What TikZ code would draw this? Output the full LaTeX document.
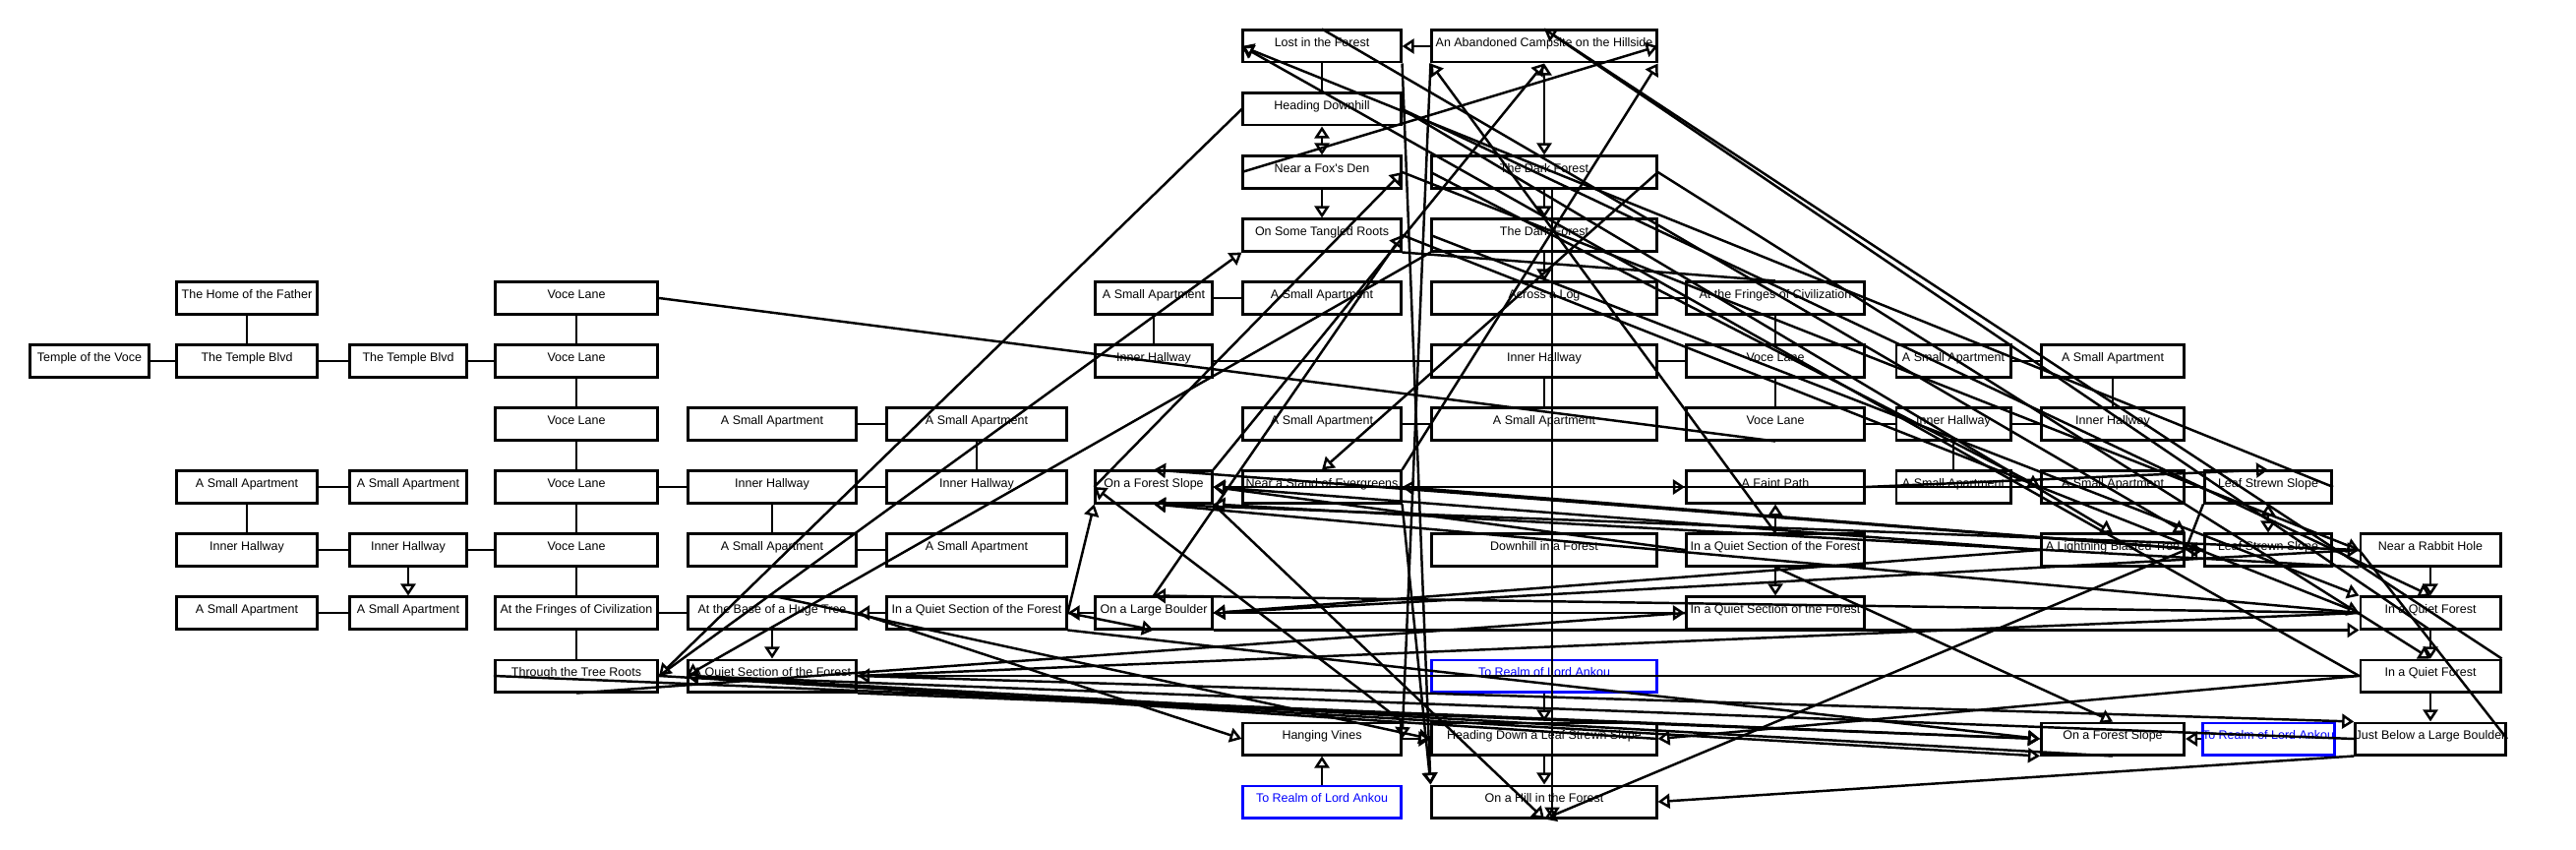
\documentclass[tikz,border=0pt]{standalone}
\usepackage{fontspec}
\newfontfamily\roomfont{Liberation Sans}
\usetikzlibrary{arrows.meta, positioning}

\tikzset{
  room/.style={draw, line width=0.85pt, minimum height=0.32cm, inner sep=0pt,
    font={\roomfont\fontsize{3.55}{4}\selectfont}, text height=2.55pt, text depth=2.2pt},
  realm/.style={room, draw=blue, text=blue},
  wA/.style={minimum width=1.21cm}, wB/.style={minimum width=1.42cm},
  wC/.style={minimum width=1.19cm}, wD/.style={minimum width=1.65cm},
  wE/.style={minimum width=1.71cm}, wF/.style={minimum width=1.82cm},
  wG/.style={minimum width=1.18cm}, wH/.style={minimum width=1.60cm},
  wI/.style={minimum width=2.28cm}, wJ/.style={minimum width=1.81cm},
  wK/.style={minimum width=1.16cm}, wL/.style={minimum width=1.45cm},
  wM/.style={minimum width=1.29cm}, wN/.style={minimum width=1.42cm},
  link/.style={line width=0.7pt},
  go/.style={link, -{Triangle[open, length=1.2mm, width=1.5mm]}},
  goboth/.style={link, {Triangle[open, length=1.2mm, width=1.5mm]}-{Triangle[open, length=1.2mm, width=1.5mm]}}
}

\begin{document}
\begin{tikzpicture}[x=0.01cm, y=-0.01cm]
    \useasboundingbox (0,0) rectangle (2619,864);

    % the town: temple and Voce Lane
    \node[room, wA] (temple) at (91,367) {Temple of the Voce};
    \node[room, wB] (home) at (251,303) {The Home of the Father};
    \node[room, wB] (blvdA) at (251,367) {The Temple Blvd};
    \node[room, wC] (blvdB) at (415,367) {The Temple Blvd};
    \node[room, wD] (voceA) at (586,303) {Voce Lane};
    \node[room, wD] (voceB) at (586,367) {Voce Lane};
    \node[room, wD] (voceC) at (586,431) {Voce Lane};
    \node[room, wD] (voceD) at (586,495) {Voce Lane};
    \node[room, wD] (voceE) at (586,559) {Voce Lane};
    \node[room, wD] (fringeA) at (586,623) {At the Fringes of Civilization};
    \node[room, wD] (treeroots) at (586,687) {Through the Tree Roots};

    % apartments west of the lane
    \node[room, wB] (aptB7) at (251,495) {A Small Apartment};
    \node[room, wC] (aptC7) at (415,495) {A Small Apartment};
    \node[room, wB] (hallB8) at (251,559) {Inner Hallway};
    \node[room, wC] (hallC8) at (415,559) {Inner Hallway};
    \node[room, wB] (aptB9) at (251,623) {A Small Apartment};
    \node[room, wC] (aptC9) at (415,623) {A Small Apartment};

    % apartments east of the lane
    \node[room, wE] (aptE6) at (785,431) {A Small Apartment};
    \node[room, wF] (aptF6) at (993,431) {A Small Apartment};
    \node[room, wE] (hallE7) at (785,495) {Inner Hallway};
    \node[room, wF] (hallF7) at (993,495) {Inner Hallway};
    \node[room, wE] (aptE8) at (785,559) {A Small Apartment};
    \node[room, wF] (aptF8) at (993,559) {A Small Apartment};
    \node[room, wE] (hugetree) at (785,623) {At the Base of a Huge Tree};
    \node[room, wF] (quietF9) at (993,623) {In a Quiet Section of the Forest};
    \node[room, wE] (quietE10) at (785,687) {A Quiet Section of the Forest};

    % column G
    \node[room, wG] (aptG4) at (1173,303) {A Small Apartment};
    \node[room, wG] (hallG5) at (1173,367) {Inner Hallway};
    \node[room, wG] (slopeG7) at (1173,495) {On a Forest Slope};
    \node[room, wG] (boulder) at (1173,623) {On a Large Boulder};

    % column H
    \node[room, wH] (lost) at (1344,47) {Lost in the Forest};
    \node[room, wH] (downhill) at (1344,111) {Heading Downhill};
    \node[room, wH] (foxden) at (1344,175) {Near a Fox's Den};
    \node[room, wH] (roots) at (1344,239) {On Some Tangled Roots};
    \node[room, wH] (aptH4) at (1344,303) {A Small Apartment};
    \node[room, wH] (aptH6) at (1344,431) {A Small Apartment};
    \node[room, wH] (evergreens) at (1344,495) {Near a Stand of Evergreens};
    \node[room, wH] (vines) at (1344,751) {Hanging Vines};
    \node[realm, wH] (realmH) at (1344,815) {To Realm of Lord Ankou};

    % column I
    \node[room, wI] (campsite) at (1570,47) {An Abandoned Campsite on the Hillside};
    \node[room, wI] (darkA) at (1570,175) {The Dark Forest};
    \node[room, wI] (darkB) at (1570,239) {The Dark Forest};
    \node[room, wI] (log) at (1570,303) {Across a Log};
    \node[room, wI] (hallI5) at (1570,367) {Inner Hallway};
    \node[room, wI] (aptI6) at (1570,431) {A Small Apartment};
    \node[room, wI] (downforest) at (1570,559) {Downhill in a Forest};
    \node[realm, wI] (realmI) at (1570,687) {To Realm of Lord Ankou};
    \node[room, wI] (leafdown) at (1570,751) {Heading Down a Leaf Strewn Slope};
    \node[room, wI] (hill) at (1570,815) {On a Hill in the Forest};

    % column J
    \node[room, wJ] (fringeB) at (1805,303) {At the Fringes of Civilization};
    \node[room, wJ] (voceF) at (1805,367) {Voce Lane};
    \node[room, wJ] (voceG) at (1805,431) {Voce Lane};
    \node[room, wJ] (faintpath) at (1805,495) {A Faint Path};
    \node[room, wJ] (quietJ8) at (1805,559) {In a Quiet Section of the Forest};
    \node[room, wJ] (quietJ9) at (1805,623) {In a Quiet Section of the Forest};

    % columns K and L
    \node[room, wK] (aptK5) at (1986,367) {A Small Apartment};
    \node[room, wK] (hallK6) at (1986,431) {Inner Hallway};
    \node[room, wK] (aptK7) at (1986,495) {A Small Apartment};
    \node[room, wL] (aptL5) at (2148,367) {A Small Apartment};
    \node[room, wL] (hallL6) at (2148,431) {Inner Hallway};
    \node[room, wL] (aptL7) at (2148,495) {A Small Apartment};
    \node[room, wL] (lightning) at (2148,559) {A Lightning Blasted Tree};
    \node[room, wL] (slopeL11) at (2148,751) {On a Forest Slope};

    % columns M and N
    \node[room, wM] (leafM7) at (2306,495) {Leaf Strewn Slope};
    \node[room, wM] (leafM8) at (2306,559) {Leaf Strewn Slope};
    \node[realm, wM] (realmM) at (2306,751) {To Realm of Lord Ankou};
    \node[room, wN] (rabbit) at (2471,559) {Near a Rabbit Hole};
    \node[room, wN] (quietN9) at (2471,623) {In a Quiet Forest};
    \node[room, wN] (quietN10) at (2471,687) {In a Quiet Forest};
    \node[room, wN] (boulderN) at (2471,751) {Just Below a Large Boulder};

    % town links
    \draw[link] (home) -- (blvdA);
    \draw[link] (temple) -- (blvdA);
    \draw[link] (blvdA) -- (blvdB);
    \draw[link] (blvdB) -- (voceB);
    \draw[link] (voceA) -- (voceB);
    \draw[link] (voceB) -- (voceC);
    \draw[link] (voceC) -- (voceD);
    \draw[link] (voceD) -- (voceE);
    \draw[link] (voceE) -- (fringeA);
    \draw[link] (fringeA) -- (treeroots);
    \draw[link] (aptB7) -- (aptC7);
    \draw[link] (aptB7) -- (hallB8);
    \draw[link] (hallB8) -- (hallC8);
    \draw[link] (hallC8) -- (voceE);
    \draw[go] (hallC8) -- (aptC9);
    \draw[link] (aptB9) -- (aptC9);
    \draw[link] (voceD) -- (hallE7);
    \draw[link] (aptE6) -- (aptF6);
    \draw[link] (aptF6) -- (hallF7);
    \draw[link] (hallE7) -- (hallF7);
    \draw[link] (hallE7) -- (aptE8);
    \draw[link] (aptE8) -- (aptF8);
    \draw[link] (fringeA) -- (hugetree);
    \draw[go] (quietF9) -- (hugetree);
    \draw[go] (boulder) -- (quietF9);
    \draw[go] (hugetree) -- (quietE10);
    \draw[link] (aptG4) -- (aptH4);
    \draw[link] (aptG4) -- (hallG5);
    \draw[link] (hallG5) -- (hallI5);
    \draw[link] (hallI5) -- (aptI6);
    \draw[link] (aptH6) -- (aptI6);
    \draw[link] (hallI5) -- (voceF);
    \draw[link] (log) -- (fringeB);
    \draw[link] (fringeB) -- (voceF);
    \draw[link] (voceF) -- (voceG);
    \draw[link] (voceG) -- (hallK6);
    \draw[link] (aptK5) -- (aptL5);
    \draw[link] (aptL5) -- (hallL6);
    \draw[link] (hallK6) -- (hallL6);
    \draw[link] (hallK6) -- (aptK7);

    % forest links
    \draw[go] (campsite) -- (lost);
    \draw[link] (lost) -- (downhill);
    \draw[goboth] (downhill) -- (foxden);
    \draw[go] (foxden) -- (roots);
    \draw[goboth] (campsite) -- (darkA);
    \draw[go] (darkA) -- (darkB);
    \draw[go] (darkB) -- (log);
    \draw[go] (quietJ8) -- (faintpath);
    \draw[go] (quietJ8) -- (quietJ9);
    \draw[goboth] (lightning) -- (leafM8);
    \draw[goboth] (leafM7) -- (leafM8);
    \draw[go] (rabbit) -- (quietN9);
    \draw[go] (quietN9) -- (quietN10);
    \draw[go] (quietN10) -- (boulderN);
    \draw[go] (realmI) -- (leafdown);
    \draw[go] (leafdown) -- (hill);
    \draw[go] (realmH) -- (vines);
    \draw[go] (vines) -- (leafdown);
    \draw[go] (realmM) -- (slopeL11);
    \draw[go] (leafM8) -- (rabbit);

    % long links across the map
    \draw[go] (downhill.west) -- (treeroots.east);
    \draw[go] (treeroots.east) -- (roots.south west);
    \draw[go] (darkB.south west) -- (quietE10.west);
    \draw[go] (foxden.west) -- (campsite.east);
    \draw[go] (evergreens.north east) -- (campsite.south east);
    \draw[go] (quietJ8.north) -- (campsite.south west);
    \draw[go] (slopeG7.north east) -- (campsite.south);
    \draw[go] (quietN9.south) -- (campsite.north);
    \draw[link] (campsite.north) -- (quietN10.north east);
    \draw[link] (voceA.east) -- (voceG.south);
    \draw[go] (leafM7.east) -- (lost.west);
    \draw[go] (quietN10.west) -- (lost.west);
    \draw[go] (downhill.east) -- (lightning.north);
    \draw[go] (lost.south east) -- (hill.north west);
    \draw[go] (campsite.south west) -- (vines.east);
    \draw[go] (hugetree.north) -- (leafdown.west);
    \draw[go] (hugetree.east) -- (vines.west);
    \draw[link] (treeroots.south) -- (quietJ9.west);
    \draw[go] (treeroots.west) -- (slopeL11.west);
    \draw[go] (boulderN.west) -- (quietE10.west);
    \draw[go] (slopeL11.south) -- (quietE10.west);
    \draw[go] (leafdown.east) -- (quietE10.west);
    \draw[link] (quietE10.east) -- (quietN9.west);
    \draw[go] (rabbit.west) -- (boulder.east);
    \draw[go] (lightning.west) -- (boulder.east);
    \draw[go] (quietN9.west) -- (boulder.north);
    \draw[go] (quietF9.east) -- (boulder.south);
    \draw[go] (leafM7.west) -- (slopeG7.east);
    \draw[go] (leafM8.west) -- (slopeG7.north);
    \draw[go] (vines.north east) -- (slopeG7.west);
    \draw[go] (quietF9.east) -- (slopeG7.south west);
    \draw[go] (quietJ8.west) -- (slopeG7.east);
    \draw[go] (evergreens.east) -- (faintpath.west);
    \draw[go] (slopeG7.south east) -- (hill.south);
    \draw[go] (lightning.east) -- (hill.south);
    \draw[go] ([xshift=0.08cm]darkA.south) -- ([xshift=0.08cm]hill.south);
    \draw[go] (boulderN.south west) -- (hill.east);
    \draw[go] (quietN10.west) -- (leafdown.east);
    \draw[go] (quietJ8.south) -- (slopeL11.north);
    \draw[go] (faintpath.east) -- (leafM7.north);
    \draw[link] (lightning.east) -- (leafM7.south west);
    \draw[link] (rabbit.west) -- (boulderN.east);
    \draw[go] (slopeG7.west) -- (foxden.east);
    \draw[go] (boulder.north) -- (roots.east);
    \draw[go] (darkA.east) -- (evergreens.north);
    \draw[go] (darkA.west) -- (aptL7.west);
    \draw[go] (darkB.west) -- (quietN9.north west);
    \draw[link] (roots.south east) -- (fringeB.north);
    \draw[go] (rabbit.west) -- (slopeG7.south);
    \draw[go] (quietN9.west) -- (slopeG7.south);
    \draw[go] (rabbit.south west) -- (slopeG7.south east);
    \draw[go] (boulder.south east) -- (quietN9.south west);
    \draw[go] (quietN10.west) -- (quietE10.east);
    \draw[go] (quietE10.east) -- (boulderN.north west);
    \draw[go] (quietE10.south east) -- (slopeL11.west);
    \draw[go] (treeroots.east) -- (slopeL11.south west);
    \draw[go] (quietF9.south east) -- (slopeL11.west);
    \draw[go] (lightning.west) -- (slopeG7.east);
    \draw[go] (leafM8.west) -- (evergreens.east);
    \draw[go] (lost.north) -- (lightning.north east);
    \draw[go] (downhill.east) -- (quietN9.north);
    \draw[go] (foxden.east) -- (rabbit.west);
    \draw[go] (roots.east) -- (quietN9.west);
    \draw[go] (darkA.east) -- (quietN10.north);
    \draw[go] (boulder.east) -- (quietJ9.west);
    \draw[go] (evergreens.south east) -- (hill.north west);
\end{tikzpicture}
\end{document}
